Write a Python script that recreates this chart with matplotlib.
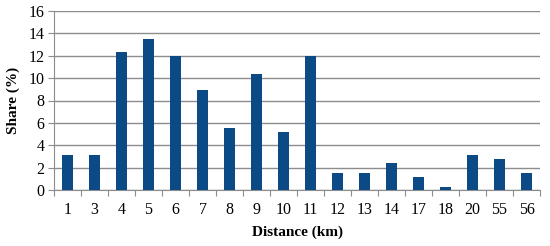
import numpy as np
import matplotlib
matplotlib.use("Agg")
import matplotlib.pyplot as plt

# distance categories (km) and share values (%)
distances = ["1", "3", "4", "5", "6", "7", "8", "9", "10", "11",
             "12", "13", "14", "17", "18", "20", "55", "56"]
share = [3.1, 3.1, 12.3, 13.5, 12.0, 8.9, 5.5, 10.4, 5.2, 12.0,
         1.5, 1.5, 2.4, 1.2, 0.3, 3.1, 2.75, 1.5]

plt.rcParams["font.family"] = ["Liberation Serif", "DejaVu Serif"]

fig = plt.figure(figsize=(5.5, 2.46), dpi=100)
ax = fig.add_axes([54 / 550, 1 - 190 / 246, 486 / 550, 179 / 246])

x = np.arange(len(distances))
ax.bar(x, share, width=0.42, color="#0b4a84", zorder=3)

ax.set_xlim(-0.5, len(distances) - 0.5)
ax.set_ylim(0, 16)
ax.set_yticks(range(0, 17, 2))
ax.yaxis.grid(True, color="#8c8c8c", lw=1.0, zorder=0)

# x ticks sit between categories, labels centred under bars
ax.set_xticks(np.arange(-0.5, len(distances)), minor=False)
ax.set_xticklabels([])
ax.set_xticks(x, minor=True)
ax.set_xticklabels(distances, minor=True)
ax.tick_params(axis="x", which="major", direction="out", length=4, color="#8c8c8c")
ax.tick_params(axis="x", which="minor", length=0, pad=9, labelsize=11.5)
ax.tick_params(axis="y", direction="out", length=4, color="#8c8c8c", labelsize=11.5, pad=3)

for side in ["top", "right"]:
    ax.spines[side].set_visible(False)
for side in ["left", "bottom"]:
    ax.spines[side].set_color("#8c8c8c")

ax.set_xlabel("Distance (km)", fontweight="bold", fontsize=11, labelpad=5)
ax.set_ylabel("Share (%)", fontweight="bold", fontsize=11, labelpad=6)

fig.savefig("out.png", dpi=100)
